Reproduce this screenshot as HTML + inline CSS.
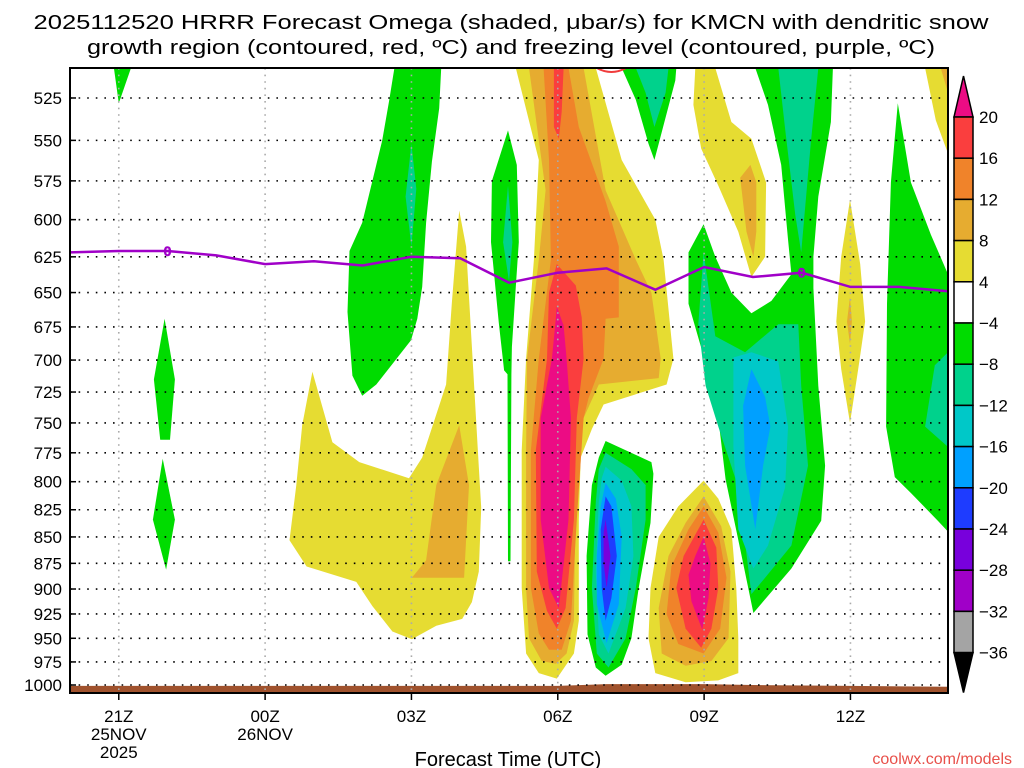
<!DOCTYPE html>
<html><head><meta charset="utf-8"><style>
html,body{margin:0;padding:0;background:#fff;}
svg{display:block;font-family:"Liberation Sans","DejaVu Sans",sans-serif;}
</style></head><body>
<svg id="chart" width="1024" height="768" viewBox="0 0 1024 768" xmlns="http://www.w3.org/2000/svg">
<rect width="1024" height="768" fill="#fff"/>
<text x="511" y="29" font-size="20" text-anchor="middle" textLength="955" lengthAdjust="spacingAndGlyphs" fill="#000">2025112520 HRRR Forecast Omega (shaded, μbar/s) for KMCN with dendritic snow</text>
<text x="511" y="54" font-size="20" text-anchor="middle" textLength="848" lengthAdjust="spacingAndGlyphs" fill="#000">growth region (contoured, red, ºC) and freezing level (contoured, purple, ºC)</text>
<g id="fills"></g>
<g id="grid"></g>
<g id="lines"></g>
<g id="axes"></g>
<g id="cbar"></g>
<text x="508" y="766" font-size="20" text-anchor="middle" fill="#000">Forecast Time (UTC)</text>
<text x="1012" y="764" font-size="16" text-anchor="end" fill="#e8504a">coolwx.com/models</text>
</svg>
<script>
// ---- data ----
const pressureTicks=[525,550,575,600,625,650,675,700,725,750,775,800,825,850,875,900,925,950,975,1000];
const hourTicks=[1,4,7,10,13,16];
const hourLabels=[["21Z","25NOV","2025"],["00Z","26NOV"],["03Z"],["06Z"],["09Z"],["12Z"]];
const freezeHours=[0,1,2,3,4,5,6,7,8,9,10,11,12,13,14,15,16,17,18];
const freezeLevel=[622,621,621,624,630,628,631,625,626,643,636,633,648,632,639,636,646,646,649];
const surfHours=[0,10,11,13,14,16,18];
const surfPressure=[1001,1001,999,999,1000,1001,1002];
const levels=[20,16,12,8,4,-4,-8,-12,-16,-20,-24,-28,-32,-36];
const colors={mag:"#ec0c84",red:"#fa3e3e",ora:"#f0832a",gold:"#e6ac30",yel:"#e6dc32",grn:"#00dc00",teal:"#00d28c",cyan:"#00c8c8",lblue:"#00a0ff",blue:"#1e3cff",purp:"#7800dc",mpurp:"#a000c8",gray:"#a4a4a4"};
// regions: [colorKey, points [hour, hPa]]
const regions=[
["grn",[[0.9,508],[1.25,508],[1.0,528]]],
["grn",[[1.94,669],[2.15,715],[2.05,764],[1.85,764],[1.72,715]]],
["grn",[[1.9,780],[2.15,834],[1.97,881],[1.7,834]]],
["grn",[[6.65,508],[7.61,508],[7.57,531],[7.42,563],[7.3,602],[7.22,646],[7.12,669],[6.99,685],[6.61,703],[6.28,719],[5.99,728],[5.79,712],[5.69,664],[5.73,621],[5.99,602],[6.2,575],[6.4,550],[6.54,527]]],
["teal",[[7.0,552],[7.1,580],[7.0,618],[6.88,585]]],
["grn",[[8.98,544],[9.16,565],[9.2,615],[9.14,646],[9.06,690],[9.05,711],[9.03,873],[8.98,873],[8.97,711],[8.9,708],[8.79,672],[8.63,615],[8.65,575]]],
["teal",[[8.98,578],[9.07,615],[9.0,642],[8.88,615]]],
["yel",[[4.97,709],[5.38,766],[5.93,783],[6.95,797],[7.22,779],[7.71,719],[7.83,657],[7.98,594],[8.12,618],[8.24,690],[8.38,787],[8.43,823],[8.38,883],[8.24,913],[8.04,930],[7.51,937],[7.01,951],[6.61,943],[6.2,917],[5.87,893],[4.85,878],[4.5,853],[4.64,803],[4.76,752]]],
["gold",[[7.98,752],[8.18,803],[8.08,889],[7.01,889],[7.3,872],[7.51,803]]],
["yel",[[9.14,508],[10.78,508],[11.31,562],[12.0,600],[12.17,627],[12.37,699],[12.23,719],[10.94,735],[10.7,755],[10.47,779],[10.43,834],[10.43,932],[10.33,966],[9.98,993],[9.61,987],[9.35,966],[9.26,899],[9.26,773],[9.35,699],[9.51,627],[9.61,562]]],
["gold",[[9.41,508],[10.53,508],[10.98,581],[11.6,627],[11.92,650],[12.11,699],[12.07,714],[10.84,719],[10.53,746],[10.37,803],[10.33,932],[10.18,966],[9.96,977],[9.67,974],[9.41,950],[9.35,899],[9.35,773],[9.37,699],[9.61,627],[9.75,581]]],
["ora",[[9.71,508],[10.22,508],[10.43,542],[10.98,588],[11.25,618],[11.25,668],[10.98,669],[10.94,699],[10.63,730],[10.53,746],[10.39,834],[10.27,932],[10.08,962],[9.82,962],[9.61,945],[9.45,899],[9.45,773],[9.61,699],[9.86,627],[9.82,562]]],
["red",[[9.92,508],[10.12,508],[10.08,533],[10.02,549],[9.92,542]]],
["red",[[9.98,630],[10.37,645],[10.49,668],[10.53,699],[10.39,746],[10.33,834],[10.16,919],[9.98,940],[9.78,922],[9.57,883],[9.55,773],[9.78,699],[9.82,650]]],
["mag",[[9.98,660],[10.12,674],[10.18,699],[10.27,746],[10.22,834],[10.02,919],[9.82,899],[9.65,834],[9.65,746],[9.88,699],[9.96,669]]],
["grn",[[10.98,765],[11.92,783],[11.96,793],[11.9,837],[11.66,899],[11.51,950],[11.31,978],[10.98,990],[10.78,981],[10.61,946],[10.59,868],[10.7,803],[10.84,779]]],
["teal",[[10.98,775],[11.51,789],[11.8,803],[11.8,834],[11.6,899],[11.39,950],[11.04,981],[10.8,966],[10.7,899],[10.78,818],[10.84,789]]],
["cyan",[[10.98,787],[11.31,799],[11.51,822],[11.55,868],[11.39,919],[11.04,966],[10.84,946],[10.78,883],[10.84,818],[10.9,797]]],
["lblue",[[10.98,801],[11.19,815],[11.31,850],[11.25,915],[11.0,955],[10.8,915],[10.8,868],[10.88,822]]],
["blue",[[10.98,813],[11.1,822],[11.21,868],[11.1,909],[10.98,932],[10.9,899],[10.88,843]]],
["purp",[[10.98,834],[11.08,868],[11.0,899],[10.94,875],[10.94,846]]],
["yel",[[12.99,799],[13.29,815],[13.56,843],[13.66,899],[13.7,950],[13.7,987],[13.29,995],[12.62,997],[12.0,987],[11.86,950],[11.9,899],[12.07,850],[12.47,822]]],
["gold",[[12.99,813],[13.35,840],[13.54,883],[13.5,950],[13.15,974],[12.62,979],[12.13,966],[12.07,919],[12.27,868],[12.62,837]]],
["ora",[[12.99,822],[13.29,846],[13.46,889],[13.33,940],[12.99,966],[12.47,956],[12.23,925],[12.33,878],[12.68,843]]],
["red",[[12.99,834],[13.25,860],[13.29,899],[13.15,940],[12.94,960],[12.62,940],[12.43,899],[12.58,868]]],
["mag",[[12.99,850],[13.13,875],[13.09,909],[12.96,941],[12.74,912],[12.68,886],[12.82,868]]],
["grn",[[11.31,508],[12.43,508],[12.41,515],[12.07,552],[11.98,562],[11.86,552],[11.6,526]]],
["teal",[[11.6,508],[12.27,508],[12.21,522],[11.98,542],[11.8,522]]],
["yel",[[12.82,508],[13.23,508],[13.56,539],[13.97,549],[14.27,576],[14.25,625],[13.97,639],[13.7,608],[13.29,578],[12.94,555],[12.78,529]]],
["gold",[[13.95,565],[14.07,576],[14.07,608],[14.01,625],[13.87,608],[13.74,573]]],
["grn",[[14.05,508],[15.64,508],[15.6,539],[15.34,585],[15.24,625],[15.24,647],[15.34,720],[15.48,786],[15.4,835],[14.79,880],[14.01,924],[13.76,866],[13.44,798],[13.23,726],[12.92,688],[12.68,658],[12.68,622],[12.99,603],[13.23,625],[13.56,650],[13.97,665],[14.38,656],[14.79,637],[14.72,613],[14.58,565],[14.31,529]]],
["teal",[[14.52,508],[15.34,508],[15.19,551],[14.99,622],[14.87,597],[14.66,543]]],
["teal",[[12.99,622],[13.23,682],[13.84,694],[14.52,673],[14.93,673],[14.99,720],[15.13,786],[14.79,858],[14.25,889],[13.97,905],[13.7,805],[13.29,753],[13.03,720],[12.88,673]]],
["cyan",[[13.6,698],[13.97,694],[14.52,701],[14.72,753],[14.66,805],[14.31,858],[14.01,880],[13.7,843],[13.6,770]]],
["lblue",[[13.97,707],[14.25,729],[14.36,753],[14.21,786],[14.05,843],[13.84,786],[13.8,736]]],
["yel",[[15.99,587],[16.2,630],[16.3,671],[16.16,707],[15.99,750],[15.81,707],[15.71,671],[15.81,625]]],
["gold",[[15.99,653],[16.03,671],[15.99,688],[15.93,671]]],
["grn",[[16.97,528],[17.24,576],[17.65,610],[18.0,637],[18.0,845],[17.79,835],[17.24,810],[16.91,796],[16.73,753],[16.75,658],[16.83,576]]],
["teal",[[18.0,694],[17.73,704],[17.53,753],[18.0,770]]],
["yel",[[17.53,508],[18.0,508],[18.0,558],[17.75,538]]],
["gold",[[17.85,508],[18.0,508],[18.0,522]]]
];
// ---- axes ----
const X0=70,X1=948,Y0=68,Y1=693;
const X=h=>X0+h*(X1-X0)/18;
const Y=p=>685-911*Math.log(1000/p);
const NS="http://www.w3.org/2000/svg";
function mk(tag,attrs,parent){const e=document.createElementNS(NS,tag);for(const k in attrs)e.setAttribute(k,attrs[k]);parent.appendChild(e);return e;}
const fills=document.getElementById('fills'),grid=document.getElementById('grid'),lines=document.getElementById('lines'),axes=document.getElementById('axes'),cbar=document.getElementById('cbar');
const clip=mk('clipPath',{id:'pc'},document.getElementById('chart'));
mk('rect',{x:X0,y:Y0,width:X1-X0,height:Y1-Y0},clip);
fills.setAttribute('clip-path','url(#pc)');
lines.setAttribute('clip-path','url(#pc)');
regions.forEach((r,i)=>{
  const pts=r[1].map(q=>X(q[0]).toFixed(1)+","+Y(q[1]).toFixed(1)).join(" ");
  const el=mk('polygon',{points:pts,fill:colors[r[0]]},fills);
  
  
});
// surface (ground)
{
  let d="M"+X(surfHours[0])+","+Y1;
  surfHours.forEach((h,i)=>{d+=" L"+X(h).toFixed(1)+","+Y(surfPressure[i]).toFixed(1);});
  d+=" L"+X(surfHours[surfHours.length-1])+","+Y1+" Z";
  const g=mk('path',{d:d,fill:"#a0522d"},fills);
  
  
}
// grid
pressureTicks.forEach(p=>{
  const l=mk('line',{x1:X0,x2:X1,y1:Y(p),y2:Y(p),stroke:"#000","stroke-width":1.6,"stroke-dasharray":"1.6 7"},grid);
  
  
});
hourTicks.forEach(h=>{
  const l=mk('line',{x1:X(h),x2:X(h),y1:Y0,y2:Y1,stroke:"#aaa","stroke-width":1.6,"stroke-dasharray":"1.6 5"},grid);
  
  
});
// freezing level
{
  const pts=freezeHours.map((h,i)=>X(h).toFixed(1)+","+Y(freezeLevel[i]).toFixed(1)).join(" ");
  const l=mk('polyline',{points:pts,fill:"none",stroke:"#a000c8","stroke-width":2.5},lines);
  
  
  [2,15].forEach(h=>{
    const i=freezeHours.indexOf(h);
    const t=mk('text',{x:X(h),y:Y(freezeLevel[i])+5,"font-size":14,"font-weight":"bold","text-anchor":"middle",fill:"#a000c8",stroke:"#a000c8","stroke-width":0.5},lines);
    t.textContent="0";
    
    
  });
  const arc=mk('path',{d:"M"+X(10.8)+","+Y0+" Q"+X(11.1)+","+(Y0+8)+" "+X(11.4)+","+Y0,fill:"none",stroke:"#f03c3c","stroke-width":2},lines);
  
  
}
// axes
{
  const b=mk('rect',{x:X0,y:Y0,width:X1-X0,height:Y1-Y0,fill:"none",stroke:"#000","stroke-width":2},axes);
  
  
  pressureTicks.forEach(p=>{
    const t=mk('text',{x:62,y:Y(p)+6,"font-size":17,"text-anchor":"end",fill:"#000"},axes);
    t.textContent=p;
    
    
    mk('line',{x1:X0,x2:X0+6,y1:Y(p),y2:Y(p),stroke:"#000","stroke-width":1.5},axes);
  });
  hourTicks.forEach((h,i)=>{
    mk('line',{x1:X(h),x2:X(h),y1:Y1,y2:Y1+7,stroke:"#000","stroke-width":1.5},axes);
    hourLabels[i].forEach((s,j)=>{
      const t=mk('text',{x:X(h),y:722+j*18,"font-size":17,"text-anchor":"middle",fill:"#000"},axes);
      t.textContent=s;
      
      
    });
  });
}
// colorbar
{
  const cx=954,cw=19,top=117,step=41.2;
  const boxCols=["red","ora","gold","yel",null,"grn","teal","cyan","lblue","blue","purp","mpurp","gray"];
  const tri=mk('polygon',{points:`${cx},${top} ${cx+cw},${top} ${cx+cw/2},${top-41}`,fill:colors.mag,stroke:"#000","stroke-width":1.5},cbar);
  
  
  boxCols.forEach((c,i)=>{
    const r=mk('rect',{x:cx,y:top+i*step,width:cw,height:step,fill:c?colors[c]:"#fff",stroke:"#000","stroke-width":1.5},cbar);
    
    
  });
  const bot=top+boxCols.length*step;
  const tri2=mk('polygon',{points:`${cx},${bot} ${cx+cw},${bot} ${cx+cw/2},${bot+40}`,fill:"#000",stroke:"#000","stroke-width":1.5},cbar);
  
  
  levels.forEach((v,i)=>{
    const t=mk('text',{x:979,y:top+i*step+6,"font-size":17,fill:"#000"},cbar);
    t.textContent=v<0?"\u2212"+Math.abs(v):String(v);
    
    
  });
}
</script>
</body></html>
